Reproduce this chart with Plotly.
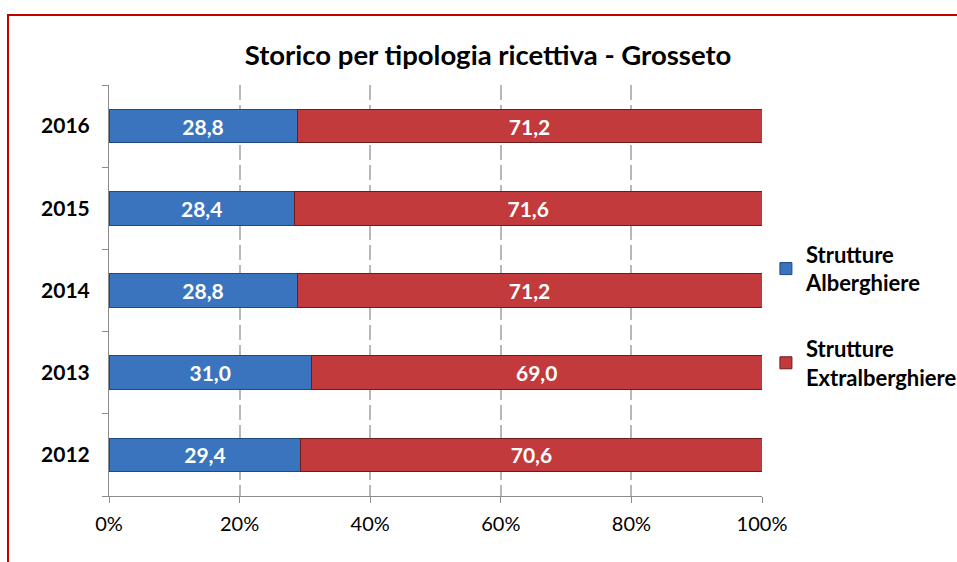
import plotly.graph_objects as go

years = ["2012", "2013", "2014", "2015", "2016"]
alberghiere = [29.4, 31.0, 28.8, 28.4, 28.8]
extralberghiere = [70.6, 69.0, 71.2, 71.6, 71.2]
x_ticks = [0, 20, 40, 60, 80, 100]
x_tick_labels = ["0%", "20%", "40%", "60%", "80%", "100%"]

FONT = "Lato, 'Open Sans', sans-serif"

fig = go.Figure()
fig.add_trace(go.Bar(
    y=years, x=alberghiere, orientation="h", name="<b>Strutture<br>Alberghiere</b>",
    legendgroup="a",
    marker=dict(color="#3a74be", line=dict(color="#1f4a80", width=1)),
    texttemplate="<b>%{x:.1f}</b>", textposition="inside", insidetextanchor="middle",
    textfont=dict(color="white", size=21, family=FONT),
))
fig.add_trace(go.Bar(
    y=years, x=extralberghiere, orientation="h", name="<b>Strutture<br>Extralberghiere</b>",
    legendgroup="b",
    marker=dict(color="#c23a3b", line=dict(color="#6e1b1b", width=1)),
    texttemplate="<b>%{x:.1f}</b>", textposition="inside", insidetextanchor="middle",
    textfont=dict(color="white", size=21, family=FONT),
))

fig.update_layout(
    width=957, height=562,
    barmode="stack", bargap=0.59,
    separators=",.",
    paper_bgcolor="white", plot_bgcolor="white",
    margin=dict(l=109, r=195, t=85, b=66, autoexpand=False),
    title=dict(text="<b>Storico per tipologia ricettiva - Grosseto</b>",
               x=0.51, xanchor="center", y=0.902, yanchor="middle",
               font=dict(size=27.5, color="black", family=FONT)),
    font=dict(family=FONT, color="black"),
    legend=dict(x=1.006, xanchor="left", y=0.438, yanchor="middle",
                traceorder="grouped", tracegroupgap=34,
                font=dict(size=22, color="black", family=FONT),
                itemwidth=30, bgcolor="rgba(0,0,0,0)"),
    xaxis=dict(range=[0, 100], tickvals=x_ticks, ticktext=x_tick_labels,
               showgrid=True, gridcolor="#b8b8b8", griddash="15px,5px", gridwidth=1.5,
               showline=True, linecolor="#8c8c8c", linewidth=1,
               ticks="outside", ticklen=6, tickcolor="#8c8c8c",
               tickfont=dict(size=20, color="black", family=FONT),
               ticklabelstandoff=4,
               zeroline=False, fixedrange=True),
    yaxis=dict(type="category", categoryorder="array", categoryarray=years,
               showline=True, linecolor="#8c8c8c", linewidth=1,
               ticks="outside", ticklen=6, tickcolor="#8c8c8c", tickson="boundaries",
               tickfont=dict(size=21, color="black", family=FONT),
               ticklabelstandoff=14, showgrid=False, fixedrange=True),
    shapes=[dict(type="rect", xref="paper", yref="paper",
                 x0=-0.1547, x1=1.5, y0=-0.4, y1=1.1703,
                 line=dict(color="#c00000", width=2), fillcolor="rgba(0,0,0,0)",
                 layer="below")],
)
fig.update_yaxes(ticktext=["<b>%s</b>" % y for y in years], tickvals=years)

fig.write_html("out.html", config={"displayModeBar": False},
               post_script="document.body.style.margin='0';")
